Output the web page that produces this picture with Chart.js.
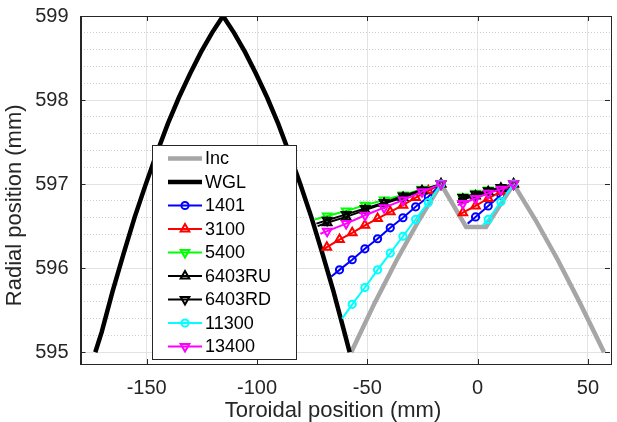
<!DOCTYPE html>
<html>
<head>
<meta charset="utf-8">
<script src="https://cdn.jsdelivr.net/npm/chart.js@4.4.1/dist/chart.umd.min.js"></script>
<style>
  html, body { margin: 0; padding: 0; background: #fff; }
  #wrap { width: 617px; height: 422px; }
</style>
</head>
<body>
<div id="wrap"><canvas id="chart" width="617" height="422"></canvas></div>
<script>
// ticks
const xTicks = [-150, -100, -50, 0, 50];
const yTicks = [595, 596, 597, 598, 599];
const yMinorTicks = [595.2, 595.4, 595.6, 595.8, 596.2, 596.4, 596.6, 596.8,
  597.2, 597.4, 597.6, 597.8, 598.2, 598.4, 598.6, 598.8];

// Inc profile
const incX = [-57.3, -46.6, -36.6, -26.6, -16.6, -5.2, 3.8, 16.3, 26.3, 36.3, 46.3, 57.3];
const incY = [595.0, 595.59, 596.10, 596.57, 597.0, 596.49, 596.49, 597.0, 596.57, 596.10, 595.59, 595.0];

// WGL profile
const wglX = [-173.3, -170.4, -165.4, -160.4, -155.4, -150.4, -145.4, -140.4, -135.4, -130.4, -125.4, -120.4,
  -115.4, -110.4, -105.4, -100.4, -95.4, -90.4, -85.4, -80.4, -75.4, -70.4, -65.4, -60.4, -58.0];
const wglY = [595.0, 595.24, 595.73, 596.18, 596.61, 597.0, 597.37, 597.72, 598.03, 598.31, 598.57, 598.80,
  599.0, 598.80, 598.57, 598.31, 598.03, 597.72, 597.37, 597.0, 596.61, 596.18, 595.73, 595.24, 595.0];

// measured series (null = break between left and right part)
const s1401X = [-66.3, -62.6, -56.85, -51.1, -45.35, -39.6, -33.85, -28.1, -22.35, -16.6, null, -4.5, -0.95, 4.8, 10.55, 16.3];
const s1401Y = [595.90, 595.98, 596.10, 596.23, 596.35, 596.48, 596.60, 596.73, 596.85, 597.0, null, 596.53, 596.61, 596.74, 596.87, 597.0];

const s3100X = [-70.4, -68.35, -62.6, -56.85, -51.1, -45.35, -39.6, -33.85, -28.1, -22.35, -16.6, null, -8.6, -6.7, -0.95, 4.8, 10.55, 16.3];
const s3100Y = [596.21, 596.25, 596.34, 596.42, 596.51, 596.59, 596.67, 596.75, 596.84, 596.92, 597.0, null, 596.63, 596.66, 596.74, 596.83, 596.91, 597.0];

const s5400X = [-73.9, -68.2, -59.6, -51.0, -42.4, -33.8, -25.2, -16.6, null, -9.0, -6.7, -0.95, 4.8, 10.55, 16.3];
const s5400Y = [596.58, 596.62, 596.68, 596.75, 596.81, 596.87, 596.94, 597.0, null, 596.84, 596.85, 596.89, 596.93, 596.96, 597.0];

const s6403ruX = [-72.5, -68.2, -59.6, -51.0, -42.4, -33.8, -25.2, -16.6, null, -8.7, -6.7, -0.95, 4.8, 10.55, 16.3];
const s6403ruY = [596.50, 596.54, 596.61, 596.69, 596.77, 596.84, 596.92, 597.0, null, 596.80, 596.82, 596.86, 596.91, 596.95, 597.0];

const s6403rdX = [-73.1, -68.2, -59.6, -51.0, -42.4, -33.8, -25.2, -16.6, null, -8.8, -6.7, -0.95, 4.8, 10.55, 16.3];
const s6403rdY = [596.53, 596.57, 596.64, 596.71, 596.78, 596.86, 596.93, 597.0, null, 596.82, 596.84, 596.88, 596.92, 596.96, 597.0];

const s11300X = [-61.4, -56.85, -51.1, -45.35, -39.6, -33.85, -28.1, -22.35, -16.6, null, 2.3, 4.8, 10.55, 16.3];
const s11300Y = [595.40, 595.57, 595.77, 595.98, 596.18, 596.38, 596.58, 596.78, 597.0, null, 596.51, 596.58, 596.79, 597.0];

const s13400X = [-71.3, -68.2, -59.6, -51.0, -42.4, -33.8, -25.2, -16.6, null, -9.0, -6.7, -0.95, 4.8, 10.55, 16.3];
const s13400Y = [596.41, 596.44, 596.53, 596.63, 596.72, 596.81, 596.91, 597.0, null, 596.75, 596.77, 596.83, 596.89, 596.94, 597.0];

const FONT = '"Liberation Sans", Arial, Helvetica, sans-serif';
const TEXT = '#262626';

function toPoints(xs, ys) {
  return xs.map((x, i) => ({ x: x, y: x === null ? null : ys[i] }));
}

const series = [
  { label: 'Inc', xs: incX, ys: incY, color: '#a6a6a6', width: 4.5, style: false, radius: 0, rot: 0 },
  { label: 'WGL', xs: wglX, ys: wglY, color: '#000000', width: 4.5, style: false, radius: 0, rot: 0 },
  { label: '1401', xs: s1401X, ys: s1401Y, color: '#0000ff', width: 2, style: 'circle', radius: 3.6, rot: 0 },
  { label: '3100', xs: s3100X, ys: s3100Y, color: '#ff0000', width: 2, style: 'triangle', radius: 5, rot: 0 },
  { label: '5400', xs: s5400X, ys: s5400Y, color: '#00ff00', width: 2, style: 'triangle', radius: 5, rot: 180 },
  { label: '6403RU', xs: s6403ruX, ys: s6403ruY, color: '#000000', width: 2, style: 'triangle', radius: 5, rot: 0 },
  { label: '6403RD', xs: s6403rdX, ys: s6403rdY, color: '#000000', width: 2, style: 'triangle', radius: 5, rot: 180 },
  { label: '11300', xs: s11300X, ys: s11300Y, color: '#00ffff', width: 2, style: 'circle', radius: 3.6, rot: 0 },
  { label: '13400', xs: s13400X, ys: s13400Y, color: '#ff00ff', width: 2, style: 'triangle', radius: 5, rot: 180 },
];

const datasets = series.map((s, i) => ({
  label: s.label,
  data: toPoints(s.xs, s.ys),
  showLine: true,
  spanGaps: false,
  tension: 0,
  yAxisID: 'y',
  order: series.length - i,
  borderColor: s.color,
  backgroundColor: 'rgba(0,0,0,0)',
  borderWidth: s.width,
  pointStyle: s.style,
  pointRotation: s.rot,
  pointBorderColor: s.color,
  pointBackgroundColor: 'rgba(0,0,0,0)',
  pointBorderWidth: 2,
  pointRadius: (c) => {
    const d = c.dataset.data, i2 = c.dataIndex;
    // segment start points have no marker
    if (i2 === 0 || d[i2 - 1].y === null) return 0;
    return s.radius;
  },
  pointHoverRadius: 0,
}));

// axes box + inward tick marks
const boxTicks = {
  id: 'boxTicks',
  afterDatasetsDraw(chart) {
    const { ctx, chartArea: a, scales } = chart;
    ctx.save();
    ctx.strokeStyle = TEXT;
    ctx.lineWidth = 1;
    ctx.beginPath();
    xTicks.forEach(v => {
      const px = Math.round(scales.x.getPixelForValue(v)) + 0.5;
      ctx.moveTo(px, a.bottom); ctx.lineTo(px, a.bottom - 5);
      ctx.moveTo(px, a.top); ctx.lineTo(px, a.top + 5);
    });
    yTicks.forEach(v => {
      const py = Math.round(scales.y.getPixelForValue(v)) + 0.5;
      ctx.moveTo(a.left, py); ctx.lineTo(a.left + 5, py);
      ctx.moveTo(a.right, py); ctx.lineTo(a.right - 5, py);
    });
    ctx.stroke();
    ctx.strokeRect(Math.round(a.left) + 0.5, Math.round(a.top) + 0.5,
      Math.round(a.right - a.left), Math.round(a.bottom - a.top));
    ctx.restore();
  }
};

// MATLAB-like legend box
const legendBox = { left: 152, top: 145, width: 144, height: 214, rowH: 23.5 };
const boxLegend = {
  id: 'boxLegend',
  afterDraw(chart) {
    const ctx = chart.ctx;
    const b = legendBox;
    ctx.save();
    ctx.fillStyle = '#ffffff';
    ctx.fillRect(b.left, b.top, b.width, b.height);
    ctx.strokeStyle = TEXT;
    ctx.lineWidth = 1;
    ctx.strokeRect(b.left + 0.5, b.top + 0.5, b.width, b.height);
    ctx.font = '18px ' + FONT;
    ctx.textBaseline = 'middle';
    ctx.textAlign = 'left';
    series.forEach((s, i) => {
      const y = b.top + 13.5 + i * b.rowH;
      ctx.strokeStyle = s.color;
      ctx.lineWidth = s.width;
      ctx.beginPath();
      ctx.moveTo(b.left + 16, y);
      ctx.lineTo(b.left + 50, y);
      ctx.stroke();
      if (s.style) {
        ctx.lineWidth = 2;
        ctx.fillStyle = 'rgba(0,0,0,0)';
        Chart.helpers.drawPoint(ctx, {
          pointStyle: s.style, radius: s.radius, rotation: s.rot, borderWidth: 2
        }, b.left + 33, y);
      }
      ctx.fillStyle = '#000000';
      ctx.fillText(s.label, b.left + 53, y + 1);
    });
    ctx.restore();
  }
};

Chart.defaults.font.family = FONT;
Chart.defaults.color = TEXT;

new Chart(document.getElementById('chart').getContext('2d'), {
  type: 'scatter',
  data: { datasets: datasets },
  options: {
    responsive: false,
    animation: false,
    devicePixelRatio: 1,
    layout: { padding: { top: 16, right: 6, left: 0, bottom: 0 } },
    plugins: { legend: { display: false }, tooltip: { enabled: false } },
    scales: {
      x: {
        type: 'linear',
        min: -180,
        max: 60,
        afterBuildTicks: (s) => { s.ticks = xTicks.map(v => ({ value: v })); },
        afterFit: (s) => { s.height = 58; s.paddingLeft = 0; s.paddingRight = 0; },
        grid: { color: '#e3e3e3', drawTicks: false },
        border: { color: TEXT },
        ticks: { font: { size: 20 }, padding: 12, color: TEXT },
        title: { display: true, text: 'Toroidal position (mm)    ', font: { size: 22, lineHeight: 1 }, color: TEXT, padding: { top: 0, bottom: 0 } }
      },
      y: {
        type: 'linear',
        position: 'left',
        min: 594.86,
        max: 599,
        afterBuildTicks: (s) => { s.ticks = yTicks.map(v => ({ value: v })); },
        // no extra room for the top label: the plot starts at the layout padding
        afterFit: (s) => { s.width = 80.5; s.paddingTop = 0; s.paddingBottom = 0; },
        grid: { color: '#e3e3e3', drawTicks: false },
        border: { color: TEXT },
        ticks: { font: { size: 20 }, padding: 12, color: TEXT },
        title: { display: true, text: 'Radial position (mm)     ', font: { size: 22 }, color: TEXT, padding: { top: 2, bottom: 0 } }
      },
      yMinor: {
        type: 'linear',
        position: 'left',
        min: 594.86,
        max: 599,
        afterBuildTicks: (s) => { s.ticks = yMinorTicks.map(v => ({ value: v })); },
        afterFit: (s) => { s.width = 0; s.paddingTop = 0; s.paddingBottom = 0; },
        grid: { color: '#cfcfcf', drawTicks: false },
        border: { display: false, dash: [1, 2] },
        ticks: { display: false }
      }
    }
  },
  plugins: [boxTicks, boxLegend]
});
</script>
</body>
</html>
